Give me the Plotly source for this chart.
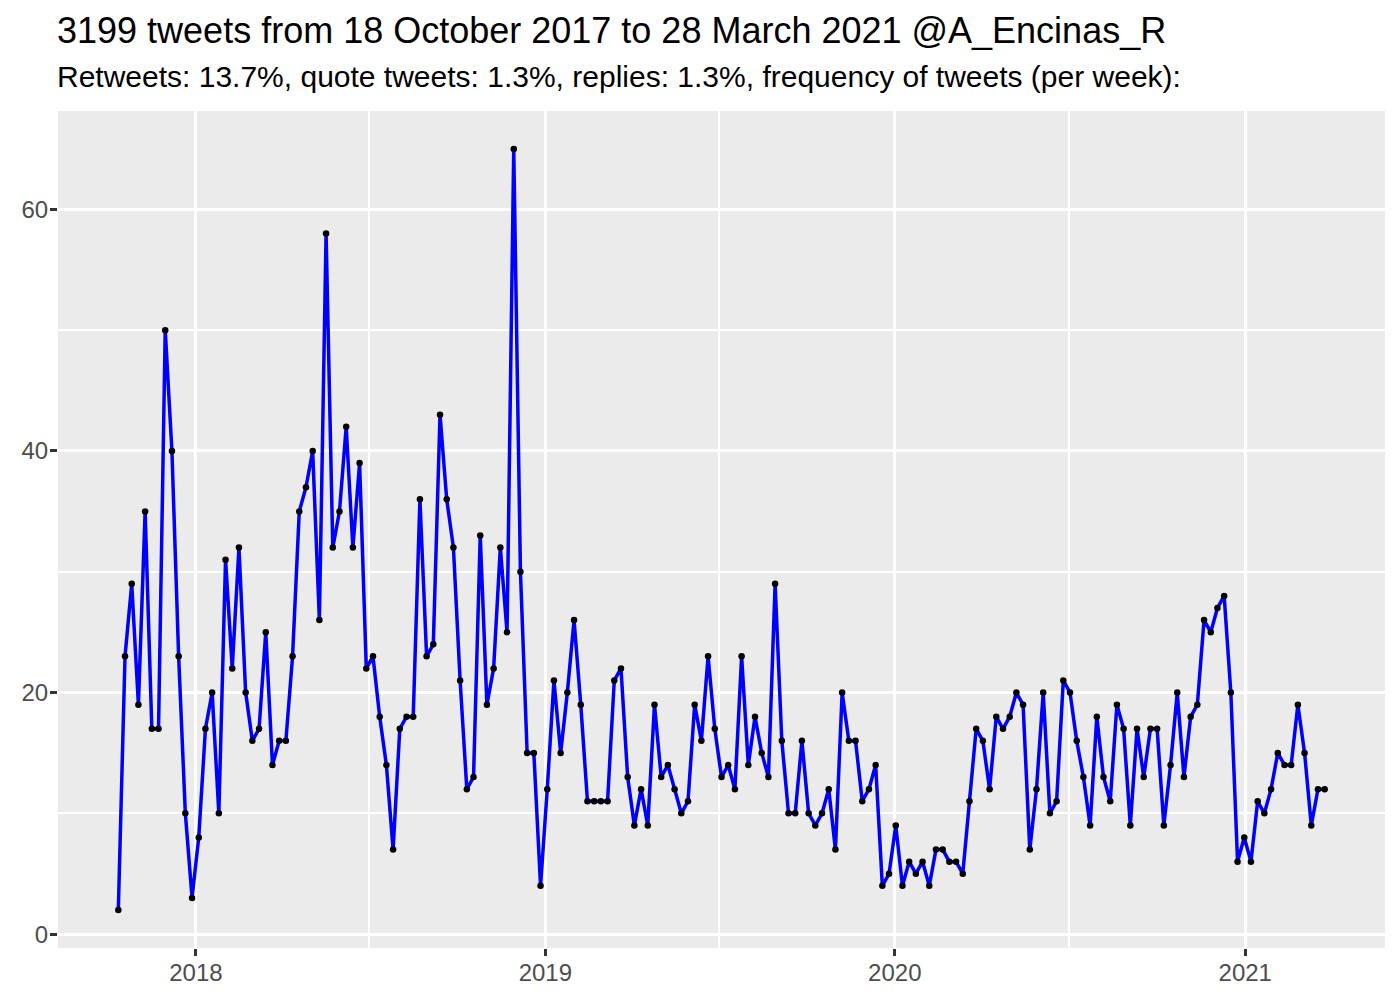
import pandas as pd
import plotly.graph_objs as go

# weekly tweet counts, weeks starting on Thursday (first week holds 18 Oct 2017)
week_start = "2017-10-12"
n_weeks = 181
tweets_per_week = [
    2, 23, 29, 19, 35, 17, 17, 50, 40, 23,
    10, 3, 8, 17, 20, 10, 31, 22, 32, 20,
    16, 17, 25, 14, 16, 16, 23, 35, 37, 40,
    26, 58, 32, 35, 42, 32, 39, 22, 23, 18,
    14, 7, 17, 18, 18, 36, 23, 24, 43, 36,
    32, 21, 12, 13, 33, 19, 22, 32, 25, 65,
    30, 15, 15, 4, 12, 21, 15, 20, 26, 19,
    11, 11, 11, 11, 21, 22, 13, 9, 12, 9,
    19, 13, 14, 12, 10, 11, 19, 16, 23, 17,
    13, 14, 12, 23, 14, 18, 15, 13, 29, 16,
    10, 10, 16, 10, 9, 10, 12, 7, 20, 16,
    16, 11, 12, 14, 4, 5, 9, 4, 6, 5,
    6, 4, 7, 7, 6, 6, 5, 11, 17, 16,
    12, 18, 17, 18, 20, 19, 7, 12, 20, 10,
    11, 21, 20, 16, 13, 9, 18, 13, 11, 19,
    17, 9, 17, 13, 17, 17, 9, 14, 20, 13,
    18, 19, 26, 25, 27, 28, 20, 6, 8, 6,
    11, 10, 12, 15, 14, 14, 19, 15, 9, 12,
    12,
]
year_ticks = ["2018-01-01", "2019-01-01", "2020-01-01", "2021-01-01"]
year_labels = ["2018", "2019", "2020", "2021"]
y_ticks = [0, 20, 40, 60]

title = "3199 tweets from 18 October 2017 to 28 March 2021 @A_Encinas_R"
subtitle = ("Retweets: 13.7%, quote tweets: 1.3%, replies: 1.3%, "
            "frequency of tweets (per week):")

weeks = pd.date_range(week_start, periods=n_weeks, freq="7D")
df = pd.DataFrame({"week": weeks, "n": tweets_per_week})

# ggplot style 5% expansion of both axes
x_span = df["week"].max() - df["week"].min()
x_range = [df["week"].min() - x_span * 0.05, df["week"].max() + x_span * 0.05]
y_span = max(tweets_per_week) - min(tweets_per_week)
y_range = [min(tweets_per_week) - y_span * 0.05, max(tweets_per_week) + y_span * 0.05]

font_family = "Liberation Sans, Arial, sans-serif"

fig = go.Figure(
    go.Scatter(
        x=df["week"],
        y=df["n"],
        mode="lines+markers",
        line=dict(color="#0000FF", width=3.5),
        marker=dict(color="black", size=6.5),
        showlegend=False,
    )
)

axis_common = dict(
    showline=False,
    zeroline=False,
    gridcolor="white",
    gridwidth=3,
    ticks="outside",
    ticklen=7,
    tickwidth=3,
    tickcolor="#333333",
    tickfont=dict(family=font_family, size=24, color="#4D4D4D"),
)

fig.update_xaxes(
    type="date",
    range=x_range,
    tickvals=year_ticks,
    ticktext=year_labels,
    ticklabelstandoff=-4,
    minor=dict(dtick="M6", tick0="2018-01-01", showgrid=True,
               gridcolor="white", gridwidth=1.5, ticks=""),
    **axis_common,
)
fig.update_yaxes(
    range=y_range,
    tickvals=y_ticks,
    ticklabelstandoff=-3,
    minor=dict(dtick=10, tick0=0, showgrid=True,
               gridcolor="white", gridwidth=1.5, ticks=""),
    **axis_common,
)

# page body adds an 8px offset, so the figure is 8px smaller each way
W, H = 1392, 992
top, bottom, left, right = 103, 52, 50, 15
plot_h = H - top - bottom


def paper_y(px):
    return 1 + (top - px) / plot_h


fig.add_annotation(text=title, xref="paper", yref="paper", x=0, y=paper_y(22),
                   xanchor="left", yanchor="middle", xshift=-3, showarrow=False,
                   font=dict(family=font_family, size=36, color="black"))
fig.add_annotation(text=subtitle, xref="paper", yref="paper", x=0, y=paper_y(68),
                   xanchor="left", yanchor="middle", xshift=-3, showarrow=False,
                   font=dict(family=font_family, size=30, color="black"))

fig.update_layout(
    width=W,
    height=H,
    margin=dict(l=left, r=right, t=top, b=bottom),
    plot_bgcolor="#EBEBEB",
    paper_bgcolor="white",
    font=dict(family=font_family),
)

fig.write_html("out.html")
